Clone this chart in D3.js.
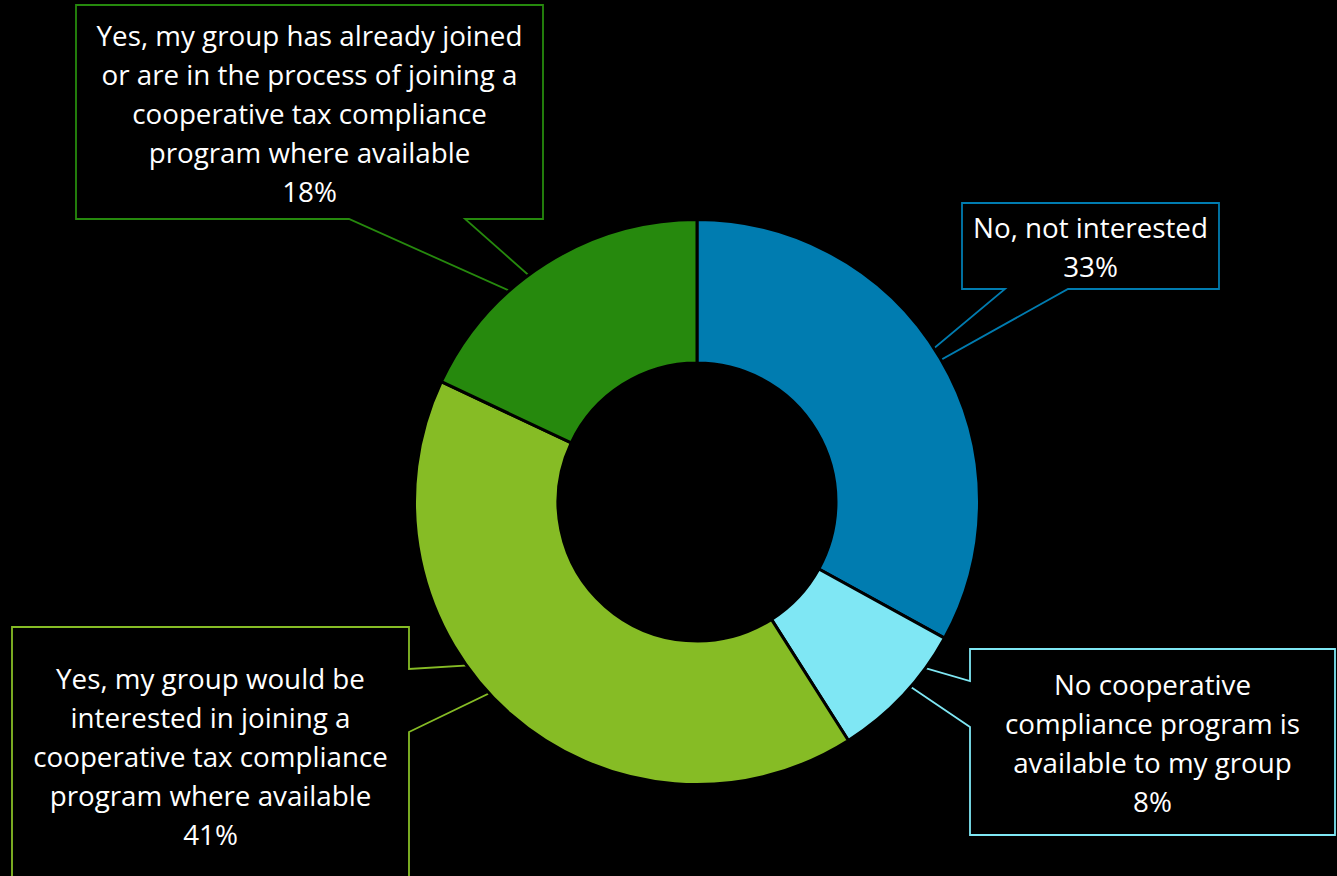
<!DOCTYPE html>
<html>
<head>
<meta charset="utf-8">
<script src="https://cdn.jsdelivr.net/npm/d3@7"></script>
<style>
  html, body { margin: 0; padding: 0; background: #000; }
  svg { display: block; }
</style>
</head>
<body>
<svg id="chart" width="1337" height="876"></svg>
<script>
// ---- data ----
const categories = [
  "No, not interested",
  "No cooperative compliance program is available to my group",
  "Yes, my group would be interested in joining a cooperative tax compliance program where available",
  "Yes, my group has already joined or are in the process of joining a cooperative tax compliance program where available"
];
const values = [33, 8, 41, 18];
const percentLabels = ["33%", "8%", "41%", "18%"];
const labelLines = [
  ["No, not interested"],
  ["No cooperative", "compliance program is", "available to my group"],
  ["Yes, my group would be", "interested in joining a", "cooperative tax compliance", "program where available"],
  ["Yes, my group has already joined", "or are in the process of joining a", "cooperative tax compliance", "program where available"]
];
const colors = ["#007CB0", "#7FE7F4", "#86BC25", "#26890D"];

// ---- layout ----
const W = 1337, H = 876;
const cx = 697, cy = 502;
const outerR = 282.5, innerR = 139;
const fontFamily = "'Open Sans', 'Noto Sans', sans-serif";
const lineH = 39;

// callout boxes: rect and pointer base (edge + gap range)
const boxes = [
  { x0: 962, y0: 203, x1: 1219, y1: 289, edge: "bottom", g0: 1005, g1: 1068 },
  { x0: 970, y0: 649, x1: 1335, y1: 835, edge: "left", g0: 681, g1: 727 },
  { x0: 12, y0: 627, x1: 409, y1: 883, edge: "right", g0: 669, g1: 732 },
  { x0: 76, y0: 5, x1: 543, y1: 219, edge: "bottom", g0: 349, g1: 465 }
];

const svg = d3.select("#chart");
svg.append("rect").attr("width", W).attr("height", H).attr("fill", "#000");

const pie = d3.pie().sort(null).value(d => d);
const arcs = pie(values);
const arc = d3.arc().innerRadius(innerR).outerRadius(outerR);
const tipArc = d3.arc().innerRadius((innerR + outerR) / 2).outerRadius((innerR + outerR) / 2);

// font fitting: widest line of the top-left label ~426px
const probe = svg.append("text").attr("font-family", fontFamily).attr("font-size", 30)
  .text("Yes, my group has already joined");
const probeW = probe.node().getComputedTextLength();
probe.remove();
const fontSize = Math.min(30, 30 * 426 / probeW);

// callouts (drawn first, donut covers the pointer tips)
const callG = svg.append("g");
arcs.forEach((a, i) => {
  const b = boxes[i];
  const c = tipArc.centroid(a);
  const tx = cx + c[0], ty = cy + c[1];
  let p = d3.path();
  p.moveTo(b.x0, b.y0);
  if (b.edge === "bottom") {
    p.lineTo(b.x1, b.y0); p.lineTo(b.x1, b.y1);
    p.lineTo(b.g1, b.y1); p.lineTo(tx, ty); p.lineTo(b.g0, b.y1);
    p.lineTo(b.x0, b.y1); p.closePath();
  } else if (b.edge === "left") {
    p.lineTo(b.x1, b.y0); p.lineTo(b.x1, b.y1); p.lineTo(b.x0, b.y1);
    p.lineTo(b.x0, b.g1); p.lineTo(tx, ty); p.lineTo(b.x0, b.g0);
    p.closePath();
  } else {
    p.lineTo(b.x1, b.y0); p.lineTo(b.x1, b.g0); p.lineTo(tx, ty);
    p.lineTo(b.x1, b.g1); p.lineTo(b.x1, b.y1); p.lineTo(b.x0, b.y1);
    p.closePath();
  }
  callG.append("path").attr("d", p.toString())
    .attr("fill", "#000").attr("stroke", colors[i]).attr("stroke-width", 1.8);

  const lines = labelLines[i].concat([percentLabels[i]]);
  const midY = (b.y0 + Math.min(b.y1, 883)) / 2 + 2;
  const midX = (b.x0 + b.x1) / 2;
  const t = callG.append("text")
    .attr("font-family", fontFamily).attr("font-size", fontSize)
    .attr("fill", "#fff").attr("text-anchor", "middle");
  lines.forEach((ln, k) => {
    t.append("tspan").attr("x", midX)
      .attr("y", midY + (k - (lines.length - 1) / 2) * lineH)
      .attr("dy", "0.35em").text(ln);
  });
});

// donut
svg.append("g").attr("transform", `translate(${cx},${cy})`)
  .selectAll("path").data(arcs).join("path")
  .attr("d", arc)
  .attr("fill", (d, i) => colors[i])
  .attr("stroke", "#000").attr("stroke-width", 3)
  .attr("stroke-linejoin", "miter");
</script>
</body>
</html>
